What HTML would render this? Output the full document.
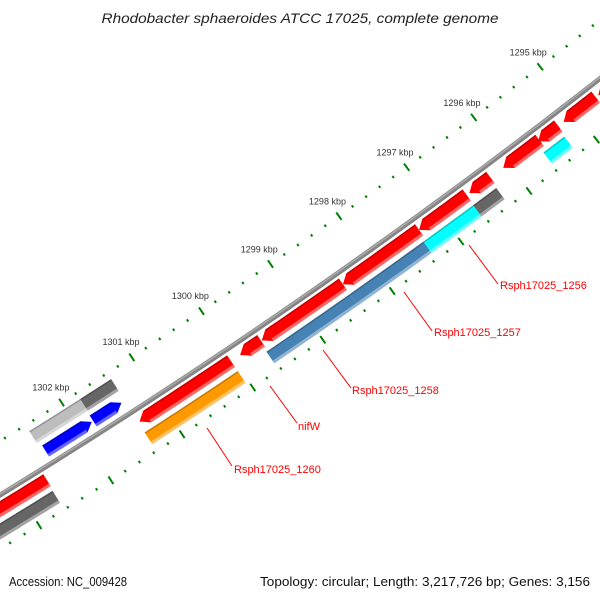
<!DOCTYPE html>
<html><head><meta charset="utf-8"><style>
html,body{margin:0;padding:0;background:#fff;}
svg{display:block;}
text{font-family:"Liberation Sans",sans-serif;}
</style></head><body>
<svg id="map" width="600" height="600" viewBox="0 0 600 600" xmlns="http://www.w3.org/2000/svg">
<rect width="600" height="600" fill="#fff"/>
<text x="300" y="23" text-anchor="middle" font-style="italic" font-size="14" fill="#222" textLength="397" lengthAdjust="spacingAndGlyphs">Rhodobacter sphaeroides ATCC 17025, complete genome</text>
<g id="ticks"></g>
<g id="labels"></g>
<g id="backbone"></g>
<g id="genes"></g>
<g id="annot">
<line x1="469" y1="245" x2="498" y2="284" stroke="#f00" stroke-width="1"/>
<text x="500" y="289" font-size="11" fill="#f00">Rsph17025_1256</text>
<line x1="404" y1="292" x2="432" y2="331" stroke="#f00" stroke-width="1"/>
<text x="434" y="336" font-size="11" fill="#f00">Rsph17025_1257</text>
<line x1="323" y1="350" x2="351" y2="388" stroke="#f00" stroke-width="1"/>
<text x="352" y="394" font-size="11" fill="#f00">Rsph17025_1258</text>
<line x1="270" y1="386" x2="297" y2="423" stroke="#f00" stroke-width="1"/>
<text x="298" y="430" font-size="11" fill="#f00">nifW</text>
<line x1="207" y1="428" x2="232" y2="466" stroke="#f00" stroke-width="1"/>
<text x="234" y="473" font-size="11" fill="#f00">Rsph17025_1260</text>
</g>
<text x="9" y="586" font-size="13" fill="#111" textLength="118" lengthAdjust="spacingAndGlyphs">Accession: NC_009428</text>
<text x="260" y="586" font-size="13" fill="#111" textLength="330" lengthAdjust="spacingAndGlyphs">Topology: circular; Length: 3,217,726 bp; Genes: 3,156</text>
</svg>
<script>
// ruler labels (kbp)
const tickLabels = [1295, 1296, 1297, 1298, 1299, 1300, 1301, 1302];
// gene features: start/end in kbp, lane index, strand, colour
const geneStart = [1302.51, 1301.79, 1301.82, 1301.40, 1302.64, 1300.04, 1299.61, 1298.43, 1297.32, 1296.62, 1296.27, 1295.54, 1295.26, 1294.70, 1294.0, 1302.65, 1300.04, 1298.43, 1297.36, 1296.63, 1296.29, 1295.28];
const geneEnd   = [1301.79, 1301.35, 1302.47, 1301.80, 1303.5, 1301.34, 1299.91, 1299.60, 1298.43, 1297.32, 1296.58, 1296.08, 1295.56, 1295.18, 1294.66, 1303.5, 1301.36, 1299.63, 1298.43, 1297.36, 1296.63, 1295.59];
const geneLane  = [0, 0, 1, 1, 2, 2, 2, 2, 2, 2, 2, 2, 2, 2, 2, 3, 3, 3, 3, 3, 3, 3];
const geneStrand= [0, 0, -1, -1, 1, 1, 1, 1, 1, 1, 1, 1, 1, 1, 1, 0, 0, 0, 0, 0, 0, 0];
const geneColor = ["#bdbdbd","#666666","#0000ff","#0000ff","#ff0000","#ff0000","#ff0000","#ff0000","#ff0000","#ff0000","#ff0000","#ff0000","#ff0000","#ff0000","#ff0000","#666666","#ff9900","#4682b4","#4682b4","#00ffff","#666666","#00ffff"];

const NS="http://www.w3.org/2000/svg";
const CX=-3327, CY=-4937, DEG=0.757;
const laneR=[[6331,6345],[6350,6363],[6375,6389],[6394,6408]];
function ang(k){return (57.6+(k-1302)*DEG)*Math.PI/180;}
function pt(k,r){const a=ang(k);return [CX+r*Math.cos(a),CY+r*Math.sin(a)];}
function mk(tag,attrs,parent){const e=document.createElementNS(NS,tag);for(const a in attrs)e.setAttribute(a,attrs[a]);parent.appendChild(e);return e;}
function arcPts(k1,k2,r,n){const p=[];for(let i=0;i<=n;i++){p.push(pt(k1+(k2-k1)*i/n,r));}return p;}
function bandPts(k1,k2,r1,r2){return arcPts(k1,k2,r1,12).concat(arcPts(k2,k1,r2,12));}
function ptsStr(p){return p.map(q=>q[0].toFixed(2)+","+q[1].toFixed(2)).join(" ");}

// ticks
const tg=document.getElementById('ticks');
for(let i=0;i<=50;i++){
  const k=1294+i*0.2;
  const major=Math.abs(k-Math.round(k))<1e-6;
  [6324,6416].forEach(function(R){
    const h=major?4.5:1.3;
    const a=pt(k,R-h), b=pt(k,R+h);
    const l=mk('line',{x1:a[0],y1:a[1],x2:b[0],y2:b[1],stroke:'#008000','stroke-width':2},tg);
    
    
  });
}
const lg=document.getElementById('labels');
tickLabels.forEach(function(k){
  const p=pt(k,6306);
  const t=mk('text',{x:p[0]-1,y:p[1]+3,'text-anchor':'middle','font-size':'9',fill:'#333'},lg);
  t.textContent=k+' kbp';
  
  
});

// backbone
const bg=document.getElementById('backbone');
const bb=mk('polyline',{points:ptsStr(arcPts(1293.5,1304,6370,60)),fill:'none',stroke:'#858585','stroke-width':5},bg);


const bh=mk('polyline',{points:ptsStr(arcPts(1293.5,1304,6369,60)),fill:'none',stroke:'#ababab','stroke-width':1.5},bg);



// genes
const gg=document.getElementById('genes');
for(let i=0;i<geneStart.length;i++){
  const r1=laneR[geneLane[i]][0], r2=laneR[geneLane[i]][1];
  const s=Math.min(geneStart[i],geneEnd[i]), e=Math.max(geneStart[i],geneEnd[i]);
  const g=mk('g',{},gg);
  
  
  const hk=9/83.8;
  let bs=s, be=e, poly;
  if(geneStrand[i]===1){ // arrow toward larger kbp
    be=Math.max(s,e-hk);
    poly=arcPts(s,be,r1,12).concat([pt(be,r1),pt(e,(r1+r2)/2),pt(be,r2)]).concat(arcPts(be,s,r2,12));
  } else if(geneStrand[i]===-1){
    bs=Math.min(e,s+hk);
    poly=arcPts(bs,e,r1,12).concat(arcPts(e,bs,r2,12)).concat([pt(bs,r2),pt(s,(r1+r2)/2),pt(bs,r1)]);
  } else poly=bandPts(s,e,r1,r2);
  mk('polygon',{points:ptsStr(poly),fill:geneColor[i]},g);
  mk('polygon',{points:ptsStr(bandPts(bs,be,r1,r1+1.5)),fill:'rgba(0,0,0,0.22)'},g);
  mk('polygon',{points:ptsStr(bandPts(bs,be,r2-3,r2)),fill:'rgba(255,255,255,0.4)'},g);
}
</script>
</body></html>
